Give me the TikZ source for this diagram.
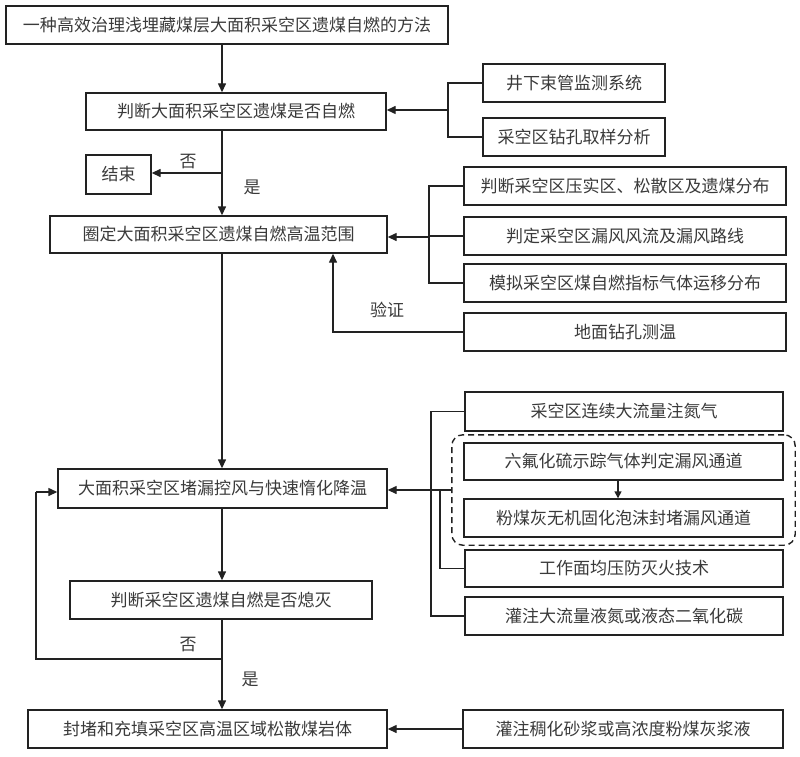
\documentclass[tikz,border=0pt]{standalone}
\usepackage{fontspec}
\setmainfont{Noto Sans CJK SC}
\usetikzlibrary{arrows.meta,fit}
\definecolor{lc}{HTML}{222222}
\definecolor{tc}{HTML}{3A3A3A}
\begin{document}
\begin{tikzpicture}[x=1pt,y=-1pt,
  bx/.style={draw=lc, line width=1.4pt, inner sep=0pt, text=tc, minimum height=38pt, font=\fontsize{17}{19}\selectfont},
  arr/.style={draw=lc, line width=1.4pt, -{Triangle[length=9pt,width=8pt]}},
  smallarr/.style={draw=lc, line width=1.4pt, -{Triangle[length=7pt,width=7pt]}},
  ln/.style={draw=lc, line width=1.4pt},
  lab/.style={text=tc, inner sep=0pt, font=\fontsize{17}{19}\selectfont}]
\useasboundingbox (0,0) rectangle (800,757);
\fill[white] (0,0) rectangle (800,757);

% main column
\node[bx, minimum width=442pt] (top) at (227,25) {一种高效治理浅埋藏煤层大面积采空区遗煤自燃的方法};
\node[bx, minimum width=300pt, minimum height=37pt] (b2) at (236,111.5) {判断大面积采空区遗煤是否自燃};
\node[bx, minimum width=65pt, minimum height=39pt] (end) at (118.5,174.5) {结束};
\node[bx, minimum width=337pt, minimum height=37pt] (b3) at (218.5,234.5) {圈定大面积采空区遗煤自燃高温范围};
\node[bx, minimum width=329pt, minimum height=39pt] (b4) at (222.5,488.5) {大面积采空区堵漏控风与快速惰化降温};
\node[bx, minimum width=302pt] (b5) at (221,600) {判断采空区遗煤自燃是否熄灭};
\node[bx, minimum width=359pt] (b6) at (207.5,729) {封堵和充填采空区高温区域松散煤岩体};

% right column
\node[bx, minimum width=182pt] (r1) at (574,83) {井下束管监测系统};
\node[bx, minimum width=182pt] (r2) at (574,137) {采空区钻孔取样分析};
\node[bx, minimum width=322pt] (g1) at (625,186) {判断采空区压实区、松散区及遗煤分布};
\node[bx, minimum width=322pt] (g2) at (625,236) {判定采空区漏风风流及漏风路线};
\node[bx, minimum width=322pt] (g3) at (625,283) {模拟采空区煤自燃指标气体运移分布};
\node[bx, minimum width=322pt] (g4) at (625,332) {地面钻孔测温};
\node[bx, minimum width=318pt, minimum height=39pt] (h1) at (624,411.5) {采空区连续大流量注氮气};
\node[bx, minimum width=319pt, minimum height=37pt] (h2) at (623.5,461.5) {六氟化硫示踪气体判定漏风通道};
\node[bx, minimum width=319pt] (h3) at (623.5,518) {粉煤灰无机固化泡沫封堵漏风通道};
\node[bx, minimum width=318pt, minimum height=37pt] (h4) at (624,568.5) {工作面均压防灭火技术};
\node[bx, minimum width=318pt] (h5) at (624,616) {灌注大流量液氮或液态二氧化碳};
\node[bx, minimum width=320pt] (k1) at (623,729) {灌注稠化砂浆或高浓度粉煤灰浆液};
\node[draw=lc, dash pattern=on 6pt off 4pt, line width=1.4pt, rounded corners=11pt, fit=(h2)(h3), inner xsep=11.5pt, inner ysep=7.5pt] (dbox) {};

% helper coordinates
\coordinate (mx) at (222,0);
\coordinate (j1) at (222,173);
\coordinate (bx1) at (448,110);
\coordinate (bx2) at (429,237);
\coordinate (vx) at (333,0);
\coordinate (ox) at (431,0);
\coordinate (ix) at (440,0);
\coordinate (ax) at (618,0);
\coordinate (j2) at (222,659);
\coordinate (fl) at (36,659);
\coordinate (fy) at (36,492);

% main flow
\draw[arr] (top.south -| mx) -- (b2.north -| mx);
\draw[arr] (b2.south -| mx) -- (b3.north -| mx);
\draw[arr] (j1) -- (end.east |- j1);
\node[lab] (no1) at (188,162) {否};
\node[lab] (yes1) at (252,187) {是};
\draw[arr] (b3.south -| mx) -- (b4.north -| mx);
\draw[arr] (b4.south -| mx) -- (b5.north -| mx);
\draw[arr] (b5.south -| mx) -- (b6.north -| mx);
\draw[ln] (j2) -- (fl) -- (fy);
\draw[arr] (fy) -- (b4.west |- fy);
\node[lab] (no2) at (188,645) {否};
\node[lab] (yes2) at (250,679) {是};

% b2 bracket
\draw[ln] (r1.west) -| (bx1) |- (r2.west);
\draw[arr] (bx1) -- (b2.east |- bx1);

% b3 bracket
\draw[ln] (g1.west) -| (bx2) |- (g3.west);
\draw[ln] (g2.west) -- (g2.west -| bx2);
\draw[arr] (bx2) -- (b3.east |- bx2);
\draw[arr] (g4.west) -| (b3.south -| vx);
\node[lab] (verify) at (387,310) {验证};

% b4 brackets
\draw[arr] (dbox.west) -- (b4.east |- dbox.west);
\draw[ln] (h1.west) -| (dbox.west -| ox) |- (h5.west);
\draw[ln] (dbox.west -| ix) |- (h4.west);
\draw[smallarr] (h2.south -| ax) -- (h3.north -| ax);

% b6
\draw[arr] (k1.west) -- (b6.east);
\end{tikzpicture}
\end{document}
